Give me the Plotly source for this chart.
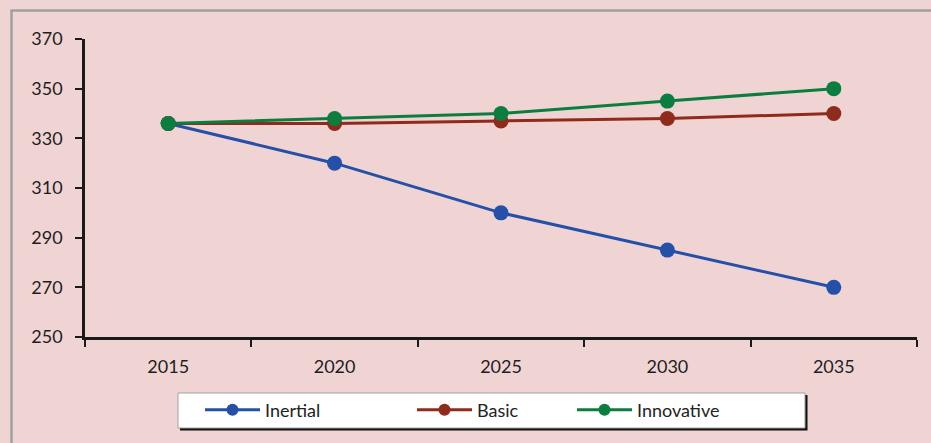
import plotly.graph_objects as go

# Scenario forecast, 2015-2035
years = ["2015", "2020", "2025", "2030", "2035"]
inertial = [336, 320, 300, 285, 270]
basic = [336, 336, 337, 338, 340]
innovative = [336, 338, 340, 345, 350]

series_names = ["Inertial", "Basic", "Innovative"]
series_colors = ["#2450A8", "#8E2B1C", "#0B7E3F"]

W, H = 931, 443
L, R, T, B = 85, 14, 39, 106
PW, PH = W - L - R, H - T - B

FONT = "Lato, 'Open Sans', sans-serif"
BG = "#F0D4D4"


def px_x(p):
    return (p - L) / PW


def px_y(p):
    return (H - B - p) / PH


fig = go.Figure()
legend_ids = ["legend", "legend2", "legend3"]
for name, vals, color in zip(series_names, [inertial, basic, innovative], series_colors):
    fig.add_trace(go.Scatter(
        x=years, y=vals, name=name, mode="lines+markers",
        line=dict(color=color, width=3),
        marker=dict(color=color, size=15),
        showlegend=False,
    ))

# legend entries with a smaller key marker
for name, color, lg in zip(series_names, series_colors, legend_ids):
    fig.add_trace(go.Scatter(
        x=[None], y=[None], name=name, mode="lines+markers",
        line=dict(color=color, width=3),
        marker=dict(color=color, size=12),
        legend=lg, showlegend=True,
    ))

legend_common = dict(
    orientation="h", bgcolor="rgba(0,0,0,0)", borderwidth=0,
    font=dict(family=FONT, size=18, color="#222222"),
    xref="container", yref="container", xanchor="left", yanchor="middle",
    itemwidth=55, tracegroupgap=0,
)
legend_x = [200, 412, 572]
layout_legends = {}
for lg, lx in zip(legend_ids, legend_x):
    layout_legends[lg] = dict(legend_common, x=lx / W, y=1 - 410 / H)

shapes = [
    # outer frame
    dict(type="rect", xref="paper", yref="paper",
         x0=px_x(11.5), x1=px_x(945), y0=px_y(10.5), y1=px_y(460),
         line=dict(color="#A0A0A0", width=2.5), fillcolor="rgba(0,0,0,0)", layer="below"),
    # legend box shadow
    dict(type="rect", xref="paper", yref="paper",
         x0=px_x(180), x1=px_x(807.5), y0=px_y(395), y1=px_y(430.5),
         line=dict(width=0), fillcolor="#111111", layer="below"),
    # legend box
    dict(type="rect", xref="paper", yref="paper",
         x0=px_x(178), x1=px_x(805), y0=px_y(393), y1=px_y(428),
         line=dict(color="#A0A0A0", width=1), fillcolor="#FFFFFF", layer="below"),
]

fig.update_layout(
    width=W, height=H,
    margin=dict(l=L, r=R, t=T, b=B, pad=0),
    paper_bgcolor=BG, plot_bgcolor=BG,
    font=dict(family=FONT, size=18, color="#222222"),
    showlegend=True,
    shapes=shapes,
    **layout_legends,
)

fig.update_xaxes(
    type="category", range=[-0.5, 4.5],
    showline=True, linecolor="#1A1A1A", linewidth=2.5,
    ticks="outside", tickson="boundaries", ticklen=7, tickwidth=1.5, tickcolor="#1A1A1A",
    showgrid=False, zeroline=False, ticklabelstandoff=12,
    tickfont=dict(family=FONT, size=18, color="#1E1E1E"),
)
fig.update_yaxes(
    range=[250, 370], dtick=20, tick0=250,
    showline=True, linecolor="#1A1A1A", linewidth=2.5,
    ticks="outside", ticklen=7, tickwidth=1.5, tickcolor="#1A1A1A",
    showgrid=False, zeroline=False, ticklabelstandoff=9,
    tickfont=dict(family=FONT, size=18, color="#1E1E1E"),
)

fig.write_html("out.html")
